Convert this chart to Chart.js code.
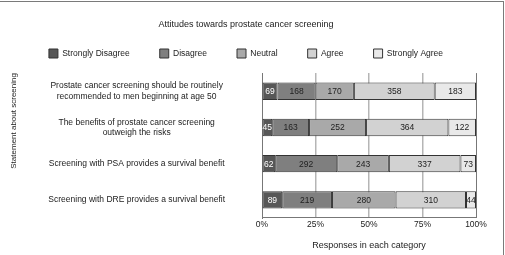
<!DOCTYPE html>
<html>
<head>
<meta charset="utf-8">
<script src="https://cdn.jsdelivr.net/npm/chart.js@4/dist/chart.umd.min.js"></script>
<style>
  body { margin: 0; background: #fff; }
  #wrap { position: relative; width: 505px; height: 255px; }
  #frame {
    position: absolute; left: 0; top: 1px; width: 504px; height: 254px;
    box-sizing: border-box; border-top: 1.5px solid #7a7a7a; border-right: 1.5px solid #7a7a7a;
    pointer-events: none;
  }
</style>
</head>
<body>
<div id="wrap">
  <canvas id="attitudeChart" width="505" height="255"></canvas>
  <div id="frame"></div>
</div>
<script>
// statements (y categories)
const statements = [
  ["Prostate cancer screening should be routinely", "recommended to men beginning at age 50"],
  ["The benefits of prostate cancer screening", "outweigh the risks"],
  "Screening with PSA provides a survival benefit",
  "Screening with DRE provides a survival benefit",
];

const responseNames = ["Strongly Disagree", "Disagree", "Neutral", "Agree", "Strongly Agree"];
const responseColors = ["#575757", "#7f7f7f", "#a9a9a9", "#d2d2d2", "#e9e9e9"];

// number of responses per category, one array per response level
const stronglyDisagree = [69, 45, 62, 89];
const disagree = [168, 163, 292, 219];
const neutral = [170, 252, 243, 280];
const agree = [358, 364, 337, 310];
const stronglyAgree = [183, 122, 73, 44];

const xTicks = [0, 25, 50, 75, 100];

const counts = [stronglyDisagree, disagree, neutral, agree, stronglyAgree];
const totals = statements.map((_, i) => counts.reduce((s, arr) => s + arr[i], 0));

const FONT = "'Liberation Sans', Arial, sans-serif";
const LEFT_PAD = 16;

// writes the count in the middle of each segment
const segmentLabels = {
  id: "segmentLabels",
  afterDatasetsDraw(chart) {
    const ctx = chart.ctx;
    ctx.save();
    ctx.font = "8.5px " + FONT;
    ctx.textAlign = "center";
    ctx.textBaseline = "middle";
    chart.data.datasets.forEach((ds, di) => {
      const meta = chart.getDatasetMeta(di);
      meta.data.forEach((bar, i) => {
        const cx = (bar.x + bar.base) / 2;
        ctx.fillStyle = di === 0 ? "#ffffff" : "#222222";
        ctx.fillText(String(ds.counts[i]), cx, bar.y + 0.5);
      });
    });
    ctx.restore();
  },
};

// legend uses the same padding both ways; wide spacing, tweak box height
const legendTrim = {
  id: "legendTrim",
  afterInit(chart) {
    const leg = chart.legend;
    if (!leg) return;
    const fit = leg.fit.bind(leg);
    leg.fit = function () {
      fit();
      this.height += 4.5;
    };
  },
};

const ctx = document.getElementById("attitudeChart").getContext("2d");

new Chart(ctx, {
  type: "bar",
  data: {
    labels: statements,
    datasets: responseNames.map((name, k) => ({
      label: name,
      counts: counts[k],
      data: counts[k].map((v, i) => (v / totals[i]) * 100),
      backgroundColor: responseColors[k],
      borderColor: "#333333",
      borderWidth: 1,
      borderSkipped: false,
      barPercentage: 0.48,
      categoryPercentage: 1,
    })),
  },
  options: {
    indexAxis: "y",
    responsive: false,
    animation: false,
    devicePixelRatio: 1,
    layout: { padding: { top: 19.6, right: 29, left: LEFT_PAD, bottom: 3 } },
    plugins: {
      title: {
        display: true,
        text: "Attitudes towards prostate cancer screening",
        color: "#222",
        font: { family: FONT, size: 9, weight: "normal" },
        padding: { top: 0, bottom: -11.4 },
      },
      legend: {
        position: "top",
        labels: {
          boxWidth: 9,
          boxHeight: 9,
          padding: 30,
          color: "#222",
          font: { family: FONT, size: 8.5 },
        },
      },
      tooltip: { enabled: false },
    },
    scales: {
      x: {
        stacked: true,
        min: 0,
        max: 100,
        afterBuildTicks: (scale) => {
          scale.ticks = xTicks.map((v) => ({ value: v }));
        },
        ticks: {
          callback: (v) => v + "%",
          color: "#222",
          font: { family: FONT, size: 8.5 },
          padding: 2,
          maxRotation: 0,
        },
        grid: {
          drawTicks: false,
          color: (c) => (c.index === 0 || c.index === xTicks.length - 1 ? "#777" : "#b5b5b5"),
          lineWidth: (c) => (c.index === 0 || c.index === xTicks.length - 1 ? 1 : 1.5),
        },
        border: { display: true, color: "#777", width: 1 },
        title: {
          display: true,
          text: "Responses in each category",
          color: "#222",
          font: { family: FONT, size: 9 },
          padding: { top: 9, bottom: 0 },
        },
      },
      y: {
        stacked: true,
        afterFit: (scale) => {
          scale.width = 262 - LEFT_PAD;
          scale.paddingTop = 0;
          scale.paddingBottom = 0;
        },
        ticks: {
          crossAlign: "center",
          padding: 37,
          color: "#222",
          font: { family: FONT, size: 8.5 },
        },
        grid: { display: false, drawTicks: false },
        border: { display: true, color: "#777", width: 1 },
        title: {
          display: true,
          text: "Statement about screening",
          align: "end",
          color: "#222",
          font: { family: FONT, size: 8 },
          padding: { top: -7, bottom: 0 },
        },
      },
    },
  },
  plugins: [segmentLabels, legendTrim],
});
</script>
</body>
</html>
